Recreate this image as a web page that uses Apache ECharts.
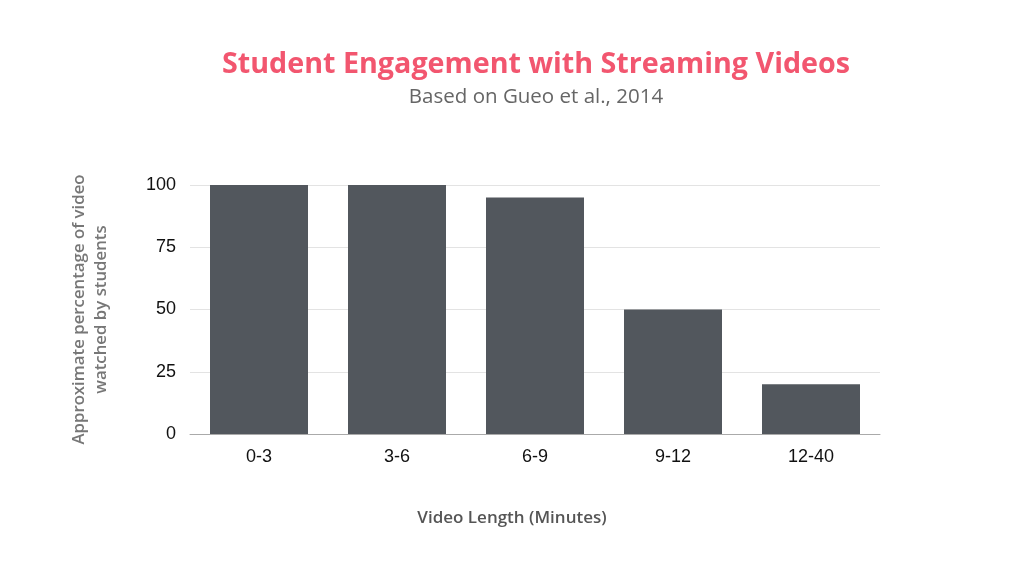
<!DOCTYPE html>
<html>
<head>
    <meta charset="utf-8">
    <title>Student Engagement</title>
    <script src="https://cdn.jsdelivr.net/npm/echarts@6/dist/echarts.min.js"></script>
    <style>
        html, body { margin: 0; padding: 0; background: #fff; }
        #main { width: 1024px; height: 571px; }
    </style>
</head>
<body>
    <div id="main"></div>
    <script type="text/javascript">
        var lengths = ['0-3', '3-6', '6-9', '9-12', '12-40'];
        var watched = [100, 100, 95, 50, 20];
        var yTicks = [0, 25, 50, 75, 100];

        var myChart = echarts.init(document.getElementById('main'));
        var option = {
            backgroundColor: '#fff',
            title: {
                text: 'Student Engagement with Streaming Videos',
                subtext: 'Based on Gueo et al., 2014',
                left: 531,
                textAlign: 'center',
                top: 45,
                itemGap: 8,
                textStyle: {
                    color: '#F2566F',
                    fontFamily: 'Open Sans',
                    fontWeight: 'bold',
                    fontSize: 28.7
                },
                subtextStyle: {
                    color: '#666',
                    fontFamily: 'Open Sans',
                    fontSize: 20.5
                }
            },
            grid: { left: 190, right: 144, top: 185, bottom: 137 },
            xAxis: {
                type: 'category',
                data: lengths,
                name: 'Video Length (Minutes)',
                nameLocation: 'middle',
                nameGap: 76,
                nameTextStyle: {
                    color: '#555', fontFamily: 'Open Sans', fontSize: 17, fontWeight: 600,
                    padding: [0, 46, 0, 0]
                },
                axisLine: { lineStyle: { color: '#aaa' } },
                axisTick: { show: false },
                axisLabel: { color: '#111', fontFamily: 'Liberation Sans', fontSize: 18, margin: 14 }
            },
            yAxis: {
                type: 'value',
                min: yTicks[0],
                max: yTicks[yTicks.length - 1],
                interval: 25,
                name: 'Approximate percentage of video\nwatched by students',
                nameLocation: 'middle',
                nameGap: 78,
                nameTextStyle: { color: '#777', fontFamily: 'Open Sans', fontSize: 16.8, fontWeight: 600, lineHeight: 22 },
                axisLine: { show: false },
                axisTick: { show: false },
                splitLine: { lineStyle: { color: '#e3e3e3' } },
                axisLabel: { color: '#111', fontFamily: 'Liberation Sans', fontSize: 18, margin: 14 }
            },
            series: [{
                type: 'bar',
                data: watched,
                barWidth: 98,
                itemStyle: { color: '#52575D' }
            }]
        };
        myChart.setOption(option);
    </script>
</body>
</html>
